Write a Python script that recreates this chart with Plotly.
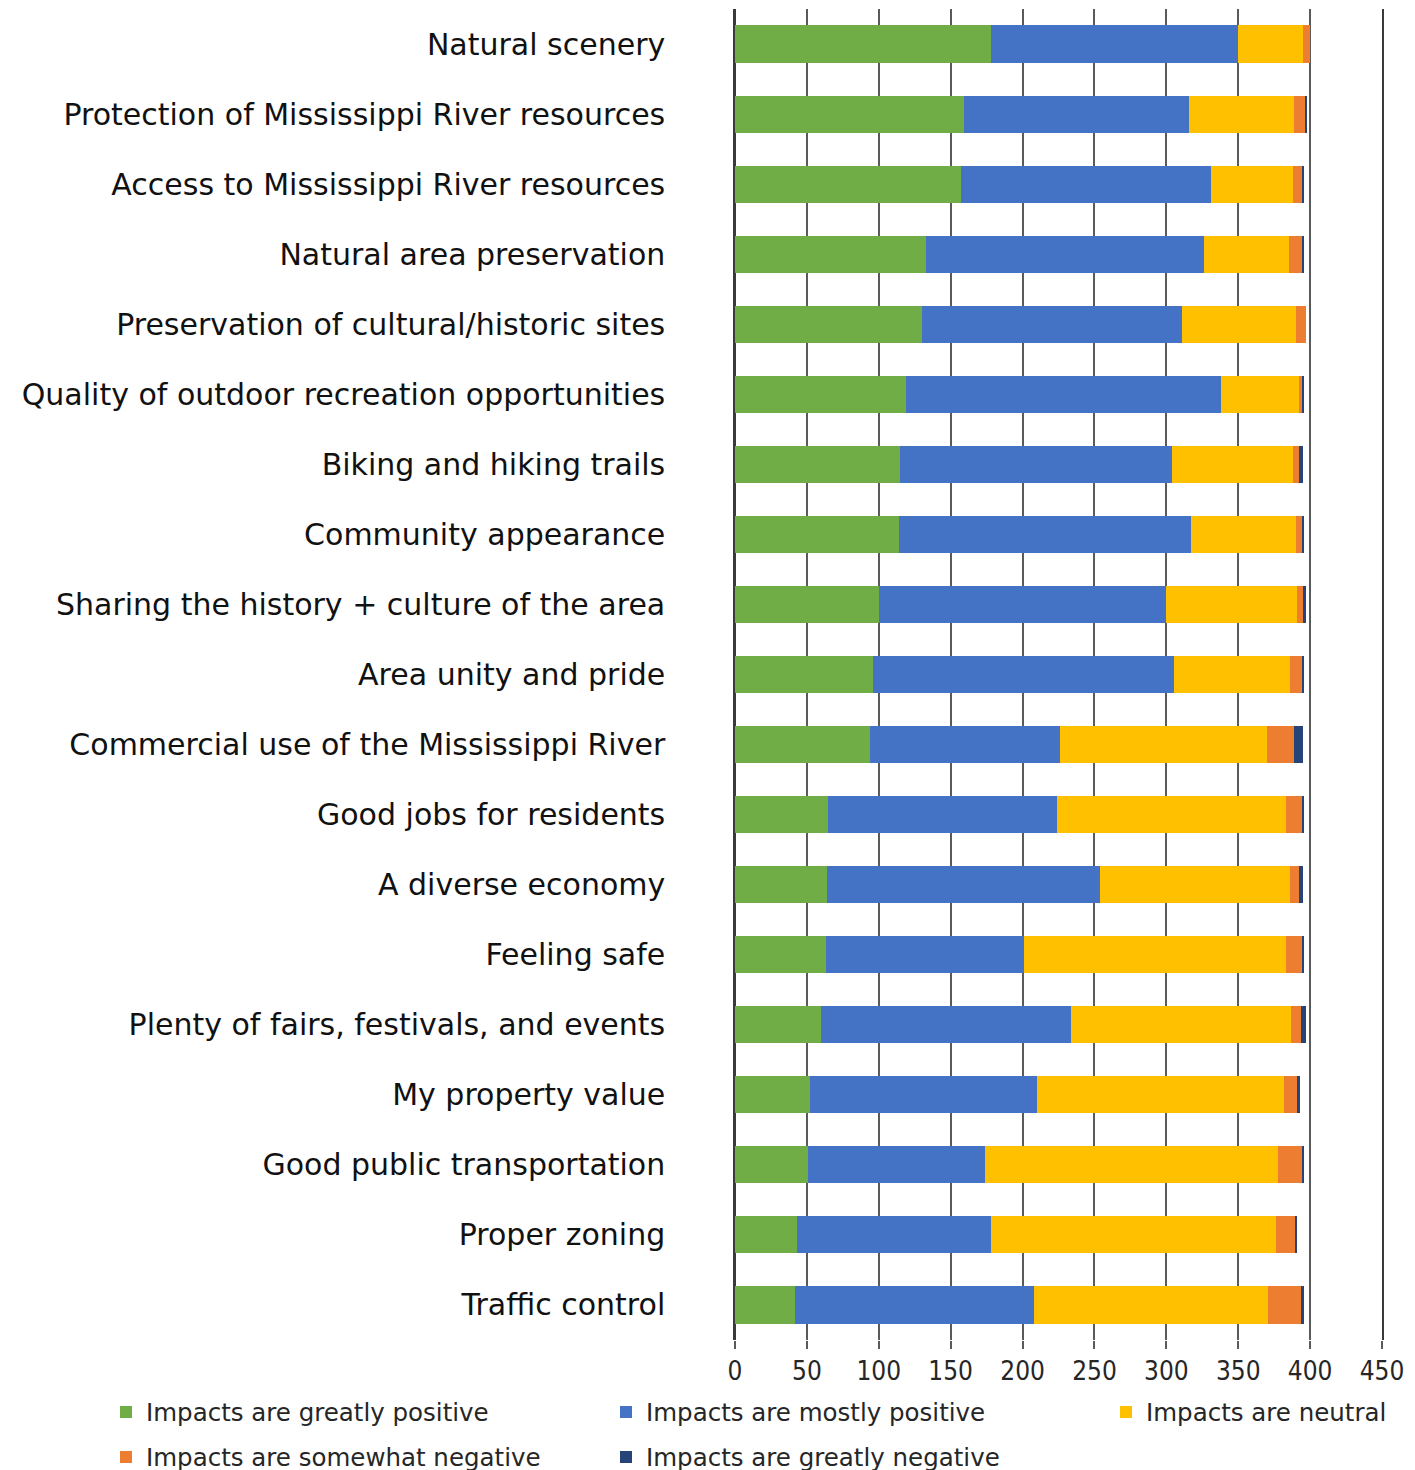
import plotly.graph_objects as go

categories = [
    "Natural scenery",
    "Protection of Mississippi River resources",
    "Access to Mississippi River resources",
    "Natural area preservation",
    "Preservation of cultural/historic sites",
    "Quality of outdoor recreation opportunities",
    "Biking and hiking trails",
    "Community appearance",
    "Sharing the history + culture of the area",
    "Area unity and pride",
    "Commercial use of the Mississippi River",
    "Good jobs for residents",
    "A diverse economy",
    "Feeling safe",
    "Plenty of fairs, festivals, and events",
    "My property value",
    "Good public transportation",
    "Proper zoning",
    "Traffic control",
]

greatly_positive = [178, 159, 157, 133, 130, 119, 115, 114, 100, 96, 94, 65, 64, 63, 60, 52, 51, 43, 42]
mostly_positive = [172, 157, 174, 193, 181, 219, 189, 203, 200, 209, 132, 159, 190, 138, 174, 158, 123, 135, 166]
neutral = [45, 73, 57, 59, 79, 54, 84, 73, 91, 81, 144, 159, 132, 182, 153, 172, 204, 198, 163]
somewhat_negative = [5, 8, 7, 10, 7, 3, 4, 5, 4, 9, 19, 12, 6, 12, 7, 9, 17, 14, 23]
greatly_negative = [0, 1, 1, 1, 0, 1, 3, 1, 2, 1, 6, 1, 3, 1, 3, 2, 1, 1, 2]

series_names = [
    "Impacts are greatly positive",
    "Impacts are mostly positive",
    "Impacts are neutral",
    "Impacts are somewhat negative",
    "Impacts are greatly negative",
]
series_values = [greatly_positive, mostly_positive, neutral, somewhat_negative, greatly_negative]
series_colors = ["#70AD47", "#4472C4", "#FFC000", "#ED7D31", "#264478"]

W, H = 1415, 1470
OFF = 8  # page body margin offset
# legend entry anchor positions (screen pixels)
legend_pos = [(106, 1412), (606, 1412), (1106, 1412), (106, 1457), (606, 1457)]

fig = go.Figure()
legend_layouts = {}
legend_font = dict(family="DejaVu Sans, sans-serif", size=24.5, color="#262626")
for i, (name, vals, color) in enumerate(zip(series_names, series_values, series_colors)):
    key = "legend" if i == 0 else f"legend{i + 1}"
    fig.add_trace(go.Bar(
        y=categories, x=vals, name=name, orientation="h",
        marker=dict(color=color, line=dict(width=0)),
        legend=key, showlegend=True,
    ))
    lx, ly = legend_pos[i]
    legend_layouts[key] = dict(
        orientation="h", xref="container", yref="container",
        x=(lx - OFF) / W, y=1 - (ly - OFF) / H, xanchor="left", yanchor="middle",
        font=legend_font, bgcolor="rgba(0,0,0,0)", visible=True,
    )

narrow = "DejaVu Sans Condensed, Liberation Sans Narrow, Liberation Sans, Arial"
fig.update_layout(
    width=W, height=H,
    showlegend=True,
    barmode="stack",
    bargap=0.47,
    plot_bgcolor="white", paper_bgcolor="white",
    margin=dict(l=735 - OFF, r=W - (1382 - OFF), t=9 - OFF, b=H - (1340 - OFF), autoexpand=False),
    xaxis=dict(
        range=[0, 450], dtick=50, tick0=0,
        showgrid=True, gridcolor="#5a5a5a", gridwidth=1.5,
        zeroline=True, zerolinecolor="#3a3a3a", zerolinewidth=1.5,
        showline=False,
        ticks="outside", ticklen=8, tickcolor="#5a5a5a", tickwidth=1.5,
        ticklabelstandoff=0,
        tickfont=dict(family=narrow, size=26, color="#262626"),
    ),
    yaxis=dict(
        autorange="reversed",
        showgrid=False, showline=True, mirror=True, linecolor="#3a3a3a", linewidth=1.5,
        ticks="",
        ticklabelstandoff=62,
        tickfont=dict(family="DejaVu Sans, Open Sans, sans-serif", size=30, color="#111111"),
    ),
    **legend_layouts,
)

fig.write_html("out.html")
